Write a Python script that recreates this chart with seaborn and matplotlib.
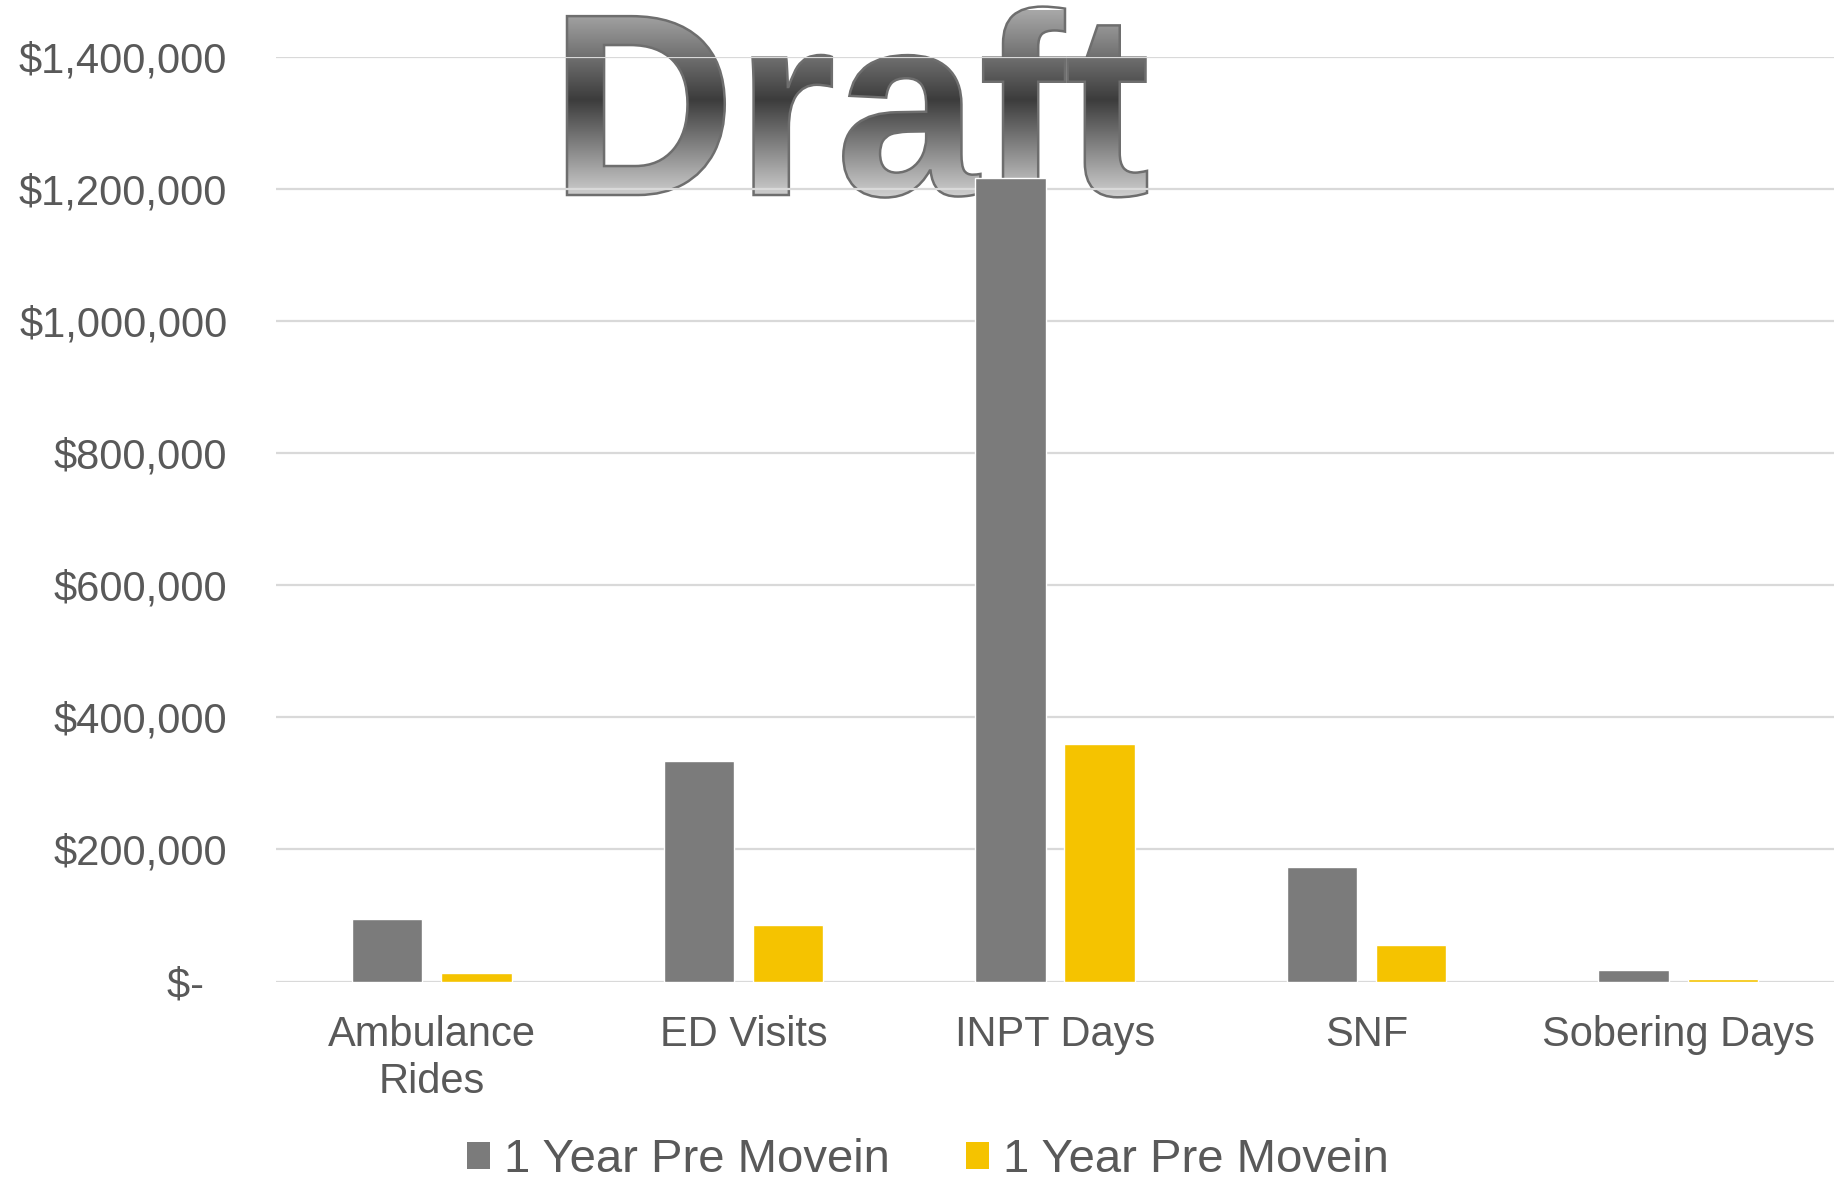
import numpy as np
import pandas as pd
import matplotlib
matplotlib.use("Agg")
import matplotlib.pyplot as plt
import seaborn as sns
from matplotlib.textpath import TextPath
from matplotlib.font_manager import FontProperties
from matplotlib.patches import PathPatch, Patch
from matplotlib.path import Path
from matplotlib.colors import LinearSegmentedColormap
from matplotlib.ticker import FuncFormatter, MultipleLocator

# ---- data ----
categories = ["Ambulance\nRides", "ED Visits", "INPT Days", "SNF", "Sobering Days"]
series_names = ["1 Year Pre Movein", "1 Year Pre Movein"]
series_a = [95000, 334000, 1217000, 174000, 17500]
series_b = [13000, 86000, 360000, 55500, 4500]
colors = ["#7b7b7b", "#f5c300"]
watermark = "Draft"

df = pd.DataFrame({
    "category": categories * 2,
    "value": series_a + series_b,
    "series": ["s0"] * len(categories) + ["s1"] * len(categories),
})

W, H = 1841, 1177
sns.set_theme(style="white")
plt.rcParams["font.family"] = ["Liberation Sans", "DejaVu Sans"]
txt_color = "#595959"

fig = plt.figure(figsize=(W / 100, H / 100), dpi=100)
fig.patch.set_facecolor("white")

# ---- watermark background (drawn below the chart) ----
ax_bg = fig.add_axes([0, 0, 1, 1], zorder=-1)
ax_bg.set_xlim(0, W)
ax_bg.set_ylim(0, H)
ax_bg.axis("off")

fp = FontProperties(family="Liberation Sans", weight="bold")
tp = TextPath((0, 0), watermark, size=260, prop=fp)
verts = tp.vertices.copy()
bb = tp.get_extents()
x0, x1 = 567, 1147
sx = (x1 - x0) / bb.width
verts[:, 0] = (verts[:, 0] - bb.x0) * sx + x0
baseline = H - 195
verts[:, 1] = verts[:, 1] + baseline
path = Path(verts, tp.codes)
pbb = path.get_extents()

cmap = LinearSegmentedColormap.from_list(
    "wm", [(0.0, "#a8a8a8"), (0.48, "#3c3c3c"), (1.0, "#d0d0d0")])
grad = np.linspace(0, 1, 256).reshape(-1, 1)
im = ax_bg.imshow(grad, cmap=cmap, aspect="auto",
                  extent=[pbb.x0, pbb.x1, baseline - 2, H - 10], origin="upper")
patch = PathPatch(path, facecolor="none", edgecolor="#6e6e6e", lw=1.8)
ax_bg.add_patch(patch)
im.set_clip_path(patch)

# ---- main chart ----
ax = fig.add_axes([276 / W, 1 - 981.5 / H, (1834 - 276) / W, (981.5 - 57.3) / H], zorder=1)
ax.patch.set_alpha(0)

sns.barplot(data=df, x="category", y="value", hue="series",
            palette=colors, width=0.572, gap=0.21, saturation=1,
            legend=False, ax=ax, zorder=3)

ax.set_ylim(0, 1400000)
ax.set_xlim(-0.5, len(categories) - 0.5)
ax.yaxis.set_major_locator(MultipleLocator(200000))
ax.yaxis.set_major_formatter(FuncFormatter(
    lambda v, p: "$-  " if v == 0 else f"${v:,.0f}"))
ax.grid(axis="y", color="#d9d9d9", lw=1.6, zorder=0)
ax.set_axisbelow(True)
for s in ax.spines.values():
    s.set_visible(False)
ax.set_xlabel("")
ax.set_ylabel("")
ax.tick_params(axis="y", length=0, pad=35, labelsize=30, labelcolor=txt_color)
ax.tick_params(axis="x", length=0, pad=24, labelsize=30, labelcolor=txt_color)
for t in ax.get_xticklabels():
    t.set_linespacing(1.22)

handles = [Patch(facecolor=c, edgecolor="none") for c in colors]
fig.legend(handles, series_names, loc="center", bbox_to_anchor=(0.504, 17 / H),
           ncol=2, frameon=False, fontsize=34, labelcolor=txt_color,
           handlelength=0.49, handleheight=0.49, handletextpad=0.3,
           columnspacing=1.6, borderpad=0, borderaxespad=0)

fig.savefig("out.png", dpi=100)
